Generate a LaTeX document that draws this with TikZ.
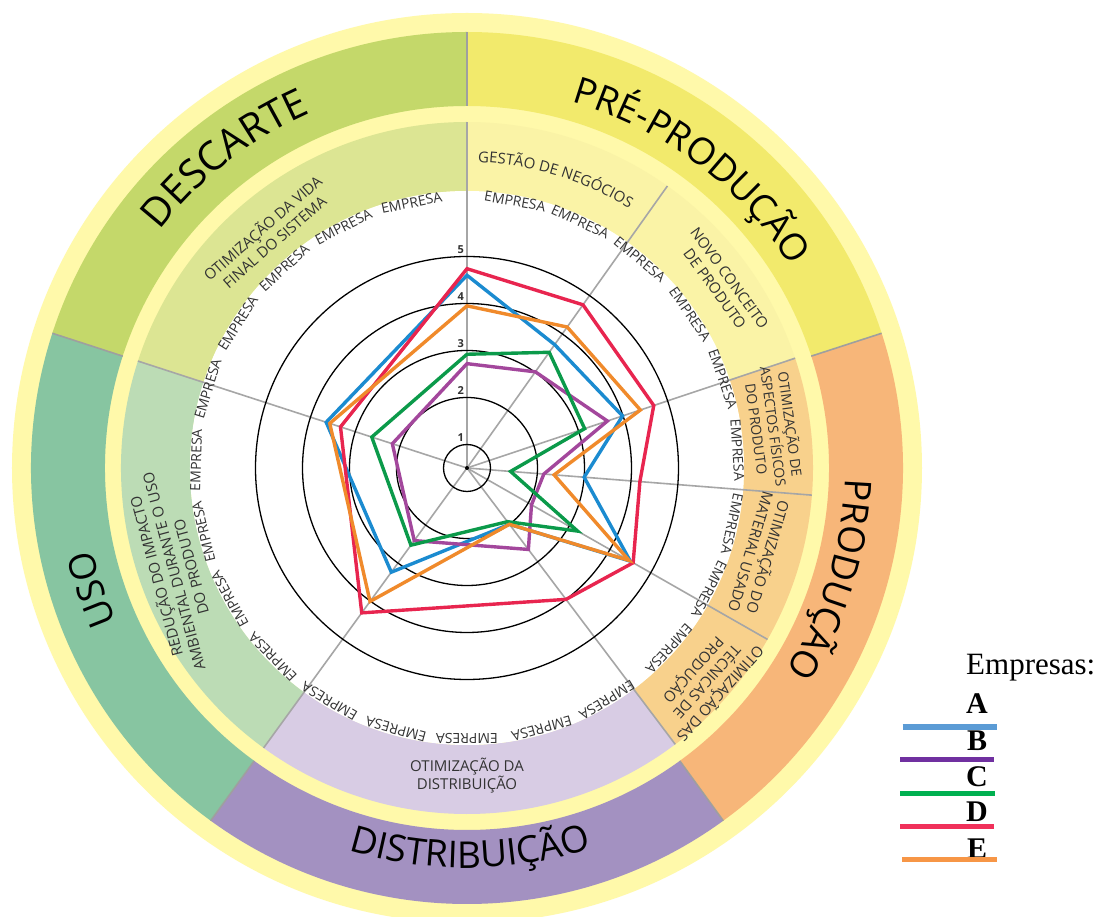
\documentclass[tikz,border=0pt]{standalone}
\usepackage{fontspec}
\setmainfont{Open Sans}
\newfontfamily\legendfont{Liberation Serif}
\usetikzlibrary{decorations.text}

\definecolor{ringyellow}{HTML}{FFF9AA}
\definecolor{preOut}{HTML}{F2EA6C}
\definecolor{preIn}{HTML}{FAF3A6}
\definecolor{prodOut}{HTML}{F7B679}
\definecolor{prodIn}{HTML}{F8D18C}
\definecolor{distOut}{HTML}{A391C1}
\definecolor{distIn}{HTML}{D8CCE4}
\definecolor{usoOut}{HTML}{87C5A1}
\definecolor{usoIn}{HTML}{BCDCB5}
\definecolor{descOut}{HTML}{C4D86A}
\definecolor{descIn}{HTML}{DCE593}
\definecolor{lineA}{HTML}{1B8BD0}
\definecolor{lineB}{HTML}{A3479C}
\definecolor{lineC}{HTML}{0B9A4A}
\definecolor{lineD}{HTML}{E8254F}
\definecolor{lineE}{HTML}{F08A2B}
\definecolor{legA}{HTML}{5B9BD5}
\definecolor{legB}{HTML}{7030A0}
\definecolor{legC}{HTML}{00B050}
\definecolor{legD}{HTML}{F0305A}
\definecolor{legE}{HTML}{F79646}
\definecolor{labelgray}{HTML}{333333}

\begin{document}
\begin{tikzpicture}[x=1pt,y=1pt,
    declare function={rv(\v)=47*\v-23.5;},
    sepline/.style={draw=gray!75,line width=1.6pt},
    axisline/.style={draw=gray!70,line width=1.6pt},
    ring/.style={draw=black,line width=1.3pt},
    empresa/.style={font=\fontsize{14}{15}\selectfont,text=labelgray,inner sep=0pt},
    sublabel/.style={font=\fontsize{15}{18}\selectfont,text=labelgray,align=center,inner sep=0pt},
    ringlabel/.style={font=\fontsize{11}{12}\selectfont\bfseries,text=labelgray,inner sep=0pt},
    serieA/.style={draw=lineA,line width=3.4pt},
    serieB/.style={draw=lineB,line width=3.4pt},
    serieC/.style={draw=lineC,line width=3.4pt},
    serieD/.style={draw=lineD,line width=3.4pt},
    serieE/.style={draw=lineE,line width=3.4pt},
    legtitle/.style={font=\legendfont\fontsize{31}{34}\selectfont,inner sep=0pt},
    legletter/.style={font=\legendfont\bfseries\fontsize{30}{32}\selectfont,inner sep=0pt},
    legline/.style={line width=5.5pt}
  ]
  \useasboundingbox (-467,-449) rectangle (633,468);
  \fill[white] (-467,-449) rectangle (633,468);

  % rings of the wheel
  \fill[ringyellow] (0,0) circle (455pt);
  \foreach \a/\b/\c in {18/90/preOut, 90/162/descOut, 162/234/usoOut, 234/306/distOut, -54/18/prodOut}
    \fill[\c] (\a:362) arc[start angle=\a,end angle=\b,radius=362pt]
      -- (\b:436) arc[start angle=\b,end angle=\a,radius=436pt] -- cycle;
  \foreach \a/\b/\c in {18.5/90/preIn, 90/162/descIn, 162/234/usoIn, 234/307/distIn, -53/18.5/prodIn}
    \fill[\c] (\a:277) arc[start angle=\a,end angle=\b,radius=277pt]
      -- (\b:346) arc[start angle=\b,end angle=\a,radius=346pt] -- cycle;
  \fill[white] (0,0) circle (277pt);
  \foreach \a in {18,90,162,234,306}
    \draw[sepline] (\a:362) -- (\a:436);
  \foreach \a in {90,54.6,18.5,-4.5,-29.7,-53,234,162}
    \draw[axisline] (0,0) -- (\a:346);
  \foreach \v in {1,...,5}
    \draw[ring] (0,0) circle ({rv(\v)*1pt});
  \fill (0,0) circle (2pt);

  % company labels round the chart
  \foreach \a [count=\i] in {79.8,65.3,50.4,34.6,19.2,3.8,-11.9,-26.6,-41.8,-58.9,-74,-90,
      -105.2,-120.5,-135.8,-151.1,-166.4,178.3,163,147.7,132.4,117.1,101.8}
    \node[empresa,rotate=\a-90] (emp\i) at (\a:271) {EMPRESA};

  % the five companies
  \draw[serieA] (90:{rv(4.6)}) -- (54.6:{rv(3.72)}) -- (18.5:{rv(3.99)}) -- (-4.5:{rv(3.0)})
    -- (-29.7:{rv(4.5)}) -- (-53:{rv(2.0)}) -- (234:{rv(3.24)}) -- (162:{rv(3.65)}) -- cycle;
  \draw[serieB] (90:{rv(2.72)}) -- (54.6:{rv(3.01)}) -- (18.5:{rv(3.65)}) -- (-4.5:{rv(2.14)})
    -- (-29.7:{rv(2.08)}) -- (-53:{rv(2.67)}) -- (234:{rv(2.41)}) -- (162:{rv(2.17)}) -- cycle;
  \draw[serieC] (90:{rv(2.92)}) -- (54.6:{rv(3.52)}) -- (18.5:{rv(3.14)}) -- (-4.5:{rv(1.43)})
    -- (-29.7:{rv(3.21)}) -- (-53:{rv(1.93)}) -- (234:{rv(2.53)}) -- (162:{rv(2.63)}) -- cycle;
  \draw[serieD] (90:{rv(4.74)}) -- (54.6:{rv(4.76)}) -- (18.5:{rv(4.69)}) -- (-4.5:{rv(4.19)})
    -- (-29.7:{rv(4.57)}) -- (-53:{rv(4.0)}) -- (234:{rv(4.31)}) -- (162:{rv(3.33)}) -- cycle;
  \draw[serieE] (90:{rv(3.95)}) -- (54.6:{rv(4.18)}) -- (18.5:{rv(4.39)}) -- (-4.5:{rv(2.36)})
    -- (-29.7:{rv(4.47)}) -- (-53:{rv(2.0)}) -- (234:{rv(4.01)}) -- (162:{rv(3.57)}) -- cycle;

  \foreach \v in {1,...,5}
    \node[ringlabel,anchor=south east] (val\v) at (-3,{rv(\v)+3}) {\v};

  % stage names
  \path[decorate,decoration={text along path,text align=center,text color=black,
      text={|\fontsize{37}{40}\selectfont|PRÉ-PRODUÇÃO}}]
    (90:381) arc[start angle=90,end angle=16,radius=381pt];
  \path[decorate,decoration={text along path,text align=center,text color=black,
      text={|\fontsize{40}{44}\selectfont|DESCARTE}}]
    (162:388) arc[start angle=162,end angle=94,radius=388pt];
  \path[decorate,decoration={text along path,text align=center,text color=black,
      text={|\fontsize{37}{40}\selectfont|PRODUÇÃO}}]
    (18:378) arc[start angle=18,end angle=-52,radius=378pt];
  \path[decorate,decoration={text along path,text align=center,text color=black,
      text={|\fontsize{37}{40}\selectfont|USO}}]
    (234:383) arc[start angle=234,end angle=162,radius=383pt];
  \path[decorate,decoration={text along path,text align=center,text color=black,
      text={|\fontsize{37}{40}\selectfont|DISTRIBUIÇÃO}}]
    (234:400) arc[start angle=234,end angle=307,radius=400pt];

  % strategy names
  \path[decorate,decoration={text along path,text align=center,text color=labelgray,
      text={|\fontsize{15}{18}\selectfont|GESTÃO DE NEGÓCIOS}}]
    (90:306) arc[start angle=90,end angle=56,radius=306pt];
  \node[sublabel,rotate=-54] (novo) at (35.9:315) {NOVO CONCEITO\\DE PRODUTO};
  \node[sublabel,font=\fontsize{14}{17}\selectfont,rotate=-82.3] (fisicos) at (7.7:310) {OTIMIZAÇÃO DE\\ASPECTOS FÍSICOS\\DO PRODUTO};
  \node[sublabel,rotate=-106.5] (material) at (-16.5:306) {OTIMIZAÇÃO DO\\MATERIAL USADO};
  \node[sublabel,rotate=-131.7] (tecnicas) at (-41.7:321) {OTIMIZAÇÃO DAS\\TÉCNICAS DE\\PRODUÇÃO};
  \node[sublabel] (distrib) at (0,-308) {OTIMIZAÇÃO DA\\DISTRIBUIÇÃO};
  \node[sublabel,rotate=105] (reducao) at (199.4:312) {REDUÇÃO DO IMPACTO\\AMBIENTAL DURANTE O USO\\DO PRODUTO};
  \node[sublabel,rotate=41] (vida) at (130.4:307) {OTIMIZAÇÃO DA VIDA\\FINAL DO SISTEMA};

  % legend
  \node[legtitle,anchor=base west] (leg) at (499,-207) {Empresas:};
  \node[legletter,anchor=base] (legtxtA) at (510,-245) {A};
  \node[legletter,anchor=base] (legtxtB) at (510,-282) {B};
  \node[legletter,anchor=base] (legtxtC) at (510,-318.7) {C};
  \node[legletter,anchor=base] (legtxtD) at (510,-353.7) {D};
  \node[legletter,anchor=base] (legtxtE) at (510,-390.3) {E};
  \draw[legline,legA] (435.7,-259) -- (529.7,-259);
  \draw[legline,legB] (433,-291.3) -- (527,-291.3);
  \draw[legline,legC] (433,-325.3) -- (528,-325.3);
  \draw[legline,legD] (433,-358.7) -- (527,-358.7);
  \draw[legline,legE] (435,-391.3) -- (530,-391.3);
\end{tikzpicture}
\end{document}
